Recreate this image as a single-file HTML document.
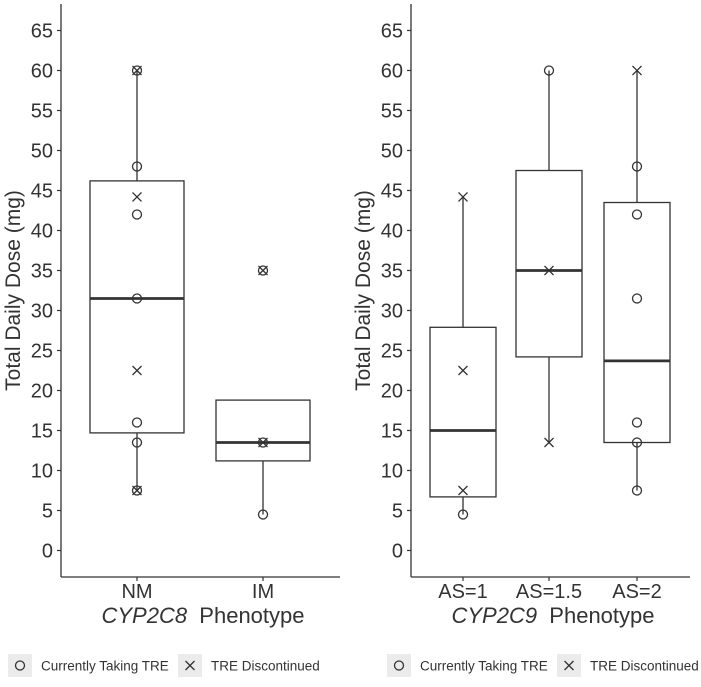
<!DOCTYPE html>
<html><head><meta charset="utf-8"><style>
html,body{margin:0;padding:0;background:#fff;}
svg text{font-family:"Liberation Sans",sans-serif;fill:#333;}
</style></head><body>
<svg id="chart" width="701" height="682" viewBox="0 0 701 682" xmlns="http://www.w3.org/2000/svg"></svg>
<script>
const yTicks=[0,5,10,15,20,25,30,35,40,45,50,55,60,65];
const leftCats=["NM","IM"];
const leftBoxes=[[7.5,14.7,31.5,46.2,60],[4.5,11.2,13.5,18.8,18.8]];
const leftCircles=[[60,48,42,31.5,16,13.5,7.5],[35,13.5,4.5]];
const leftCrosses=[[60,44.2,22.5,7.5],[35,13.5]];
const rightCats=["AS=1","AS=1.5","AS=2"];
const rightBoxes=[[4.5,6.7,15,27.9,44.2],[13.5,24.2,35,47.5,60],[7.5,13.5,23.7,43.5,60]];
const rightCircles=[[4.5],[60],[48,42,31.5,16,13.5,7.5]];
const rightCrosses=[[44.2,22.5,7.5],[35,13.5],[60]];

const svg=document.getElementById('chart');
const NS="http://www.w3.org/2000/svg";
function mk(tag,attrs,parent){const e=document.createElementNS(NS,tag);for(const k in attrs)e.setAttribute(k,attrs[k]);(parent||svg).appendChild(e);return e;}
const y=v=>550.5-v*8;

function panel(ox,cats,boxes,circles,crosses,xPos,bw,gene){
  const g=mk('g',{});
  
  
  const ax=ox+61;
  const yl=mk('line',{x1:ax,y1:4,x2:ax,y2:577,stroke:'#333','stroke-width':1.3},g);
  
  
  const xl=mk('line',{x1:ax,y1:577,x2:ox+340,y2:577,stroke:'#333','stroke-width':1.3},g);
  
  
  yTicks.forEach(t=>{
    mk('line',{x1:ax-4,y1:y(t),x2:ax,y2:y(t),stroke:'#333','stroke-width':1.2},g);
    const tx=mk('text',{x:ax-8,y:y(t)+7,'text-anchor':'end','font-size':20},g);
    tx.textContent=t;
    
    
  });
  const yt=mk('text',{x:0,y:0,'text-anchor':'middle','font-size':21,transform:`translate(${ox+20},${y(32.5)}) rotate(-90)`},g);
  yt.textContent='Total Daily Dose (mg)';
  
  
  cats.forEach((c,i)=>{
    const cx=ox+xPos[i];
    mk('line',{x1:cx,y1:577,x2:cx,y2:581,stroke:'#333','stroke-width':1.2},g);
    const lt=mk('text',{x:cx,y:598,'text-anchor':'middle','font-size':20},g);
    lt.textContent=c;
    
    
    const b=boxes[i];
    const bg=mk('g',{},g);
    
    
    mk('line',{x1:cx,y1:y(b[0]),x2:cx,y2:y(b[1]),stroke:'#333','stroke-width':1.3},bg);
    mk('line',{x1:cx,y1:y(b[3]),x2:cx,y2:y(b[4]),stroke:'#333','stroke-width':1.3},bg);
    mk('rect',{x:cx-bw/2,y:y(b[3]),width:bw,height:y(b[1])-y(b[3]),fill:'none',stroke:'#333','stroke-width':1.3},bg);
    mk('line',{x1:cx-bw/2,y1:y(b[2]),x2:cx+bw/2,y2:y(b[2]),stroke:'#333','stroke-width':2.8},bg);
    circles[i].forEach(v=>{
      const p=mk('circle',{cx:cx,cy:y(v),r:4.5,fill:'none',stroke:'#333','stroke-width':1.3},g);
      
      
    });
    crosses[i].forEach(v=>{
      const p=mk('path',{d:`M${cx-4.5} ${y(v)-4.5}L${cx+4.5} ${y(v)+4.5}M${cx-4.5} ${y(v)+4.5}L${cx+4.5} ${y(v)-4.5}`,stroke:'#333','stroke-width':1.3},g);
      
      
    });
  });
  const xt=mk('text',{x:ox+203,y:623,'text-anchor':'middle','font-size':22},g);
  xt.innerHTML=`<tspan font-style="italic">${gene}</tspan>&#160;&#160;Phenotype`;
  
  
}
panel(0,leftCats,leftBoxes,leftCircles,leftCrosses,[137,263],94,'CYP2C8');
panel(350,rightCats,rightBoxes,rightCircles,rightCrosses,[113,199,287],66,'CYP2C9');

function legend(k1,t1,k2,t2){
  const g=mk('g',{});
  
  
  mk('rect',{x:k1,y:654,width:24,height:23,fill:'#ebebeb'},g);
  mk('circle',{cx:k1+12,cy:665.5,r:4.5,fill:'none',stroke:'#333','stroke-width':1.3},g);
  const a=mk('text',{x:t1,y:670.5,'font-size':13.5},g);a.textContent='Currently Taking TRE';
  
  
  mk('rect',{x:k2,y:654,width:24,height:23,fill:'#ebebeb'},g);
  const c=k2+12;
  mk('path',{d:`M${c-4.5} 661L${c+4.5} 670M${c-4.5} 670L${c+4.5} 661`,stroke:'#333','stroke-width':1.3},g);
  const b=mk('text',{x:t2,y:670.5,'font-size':13.5},g);b.textContent='TRE Discontinued';
  
  
}
legend(8,41,178,211);
legend(387,420,557,590);
</script>
</body></html>
